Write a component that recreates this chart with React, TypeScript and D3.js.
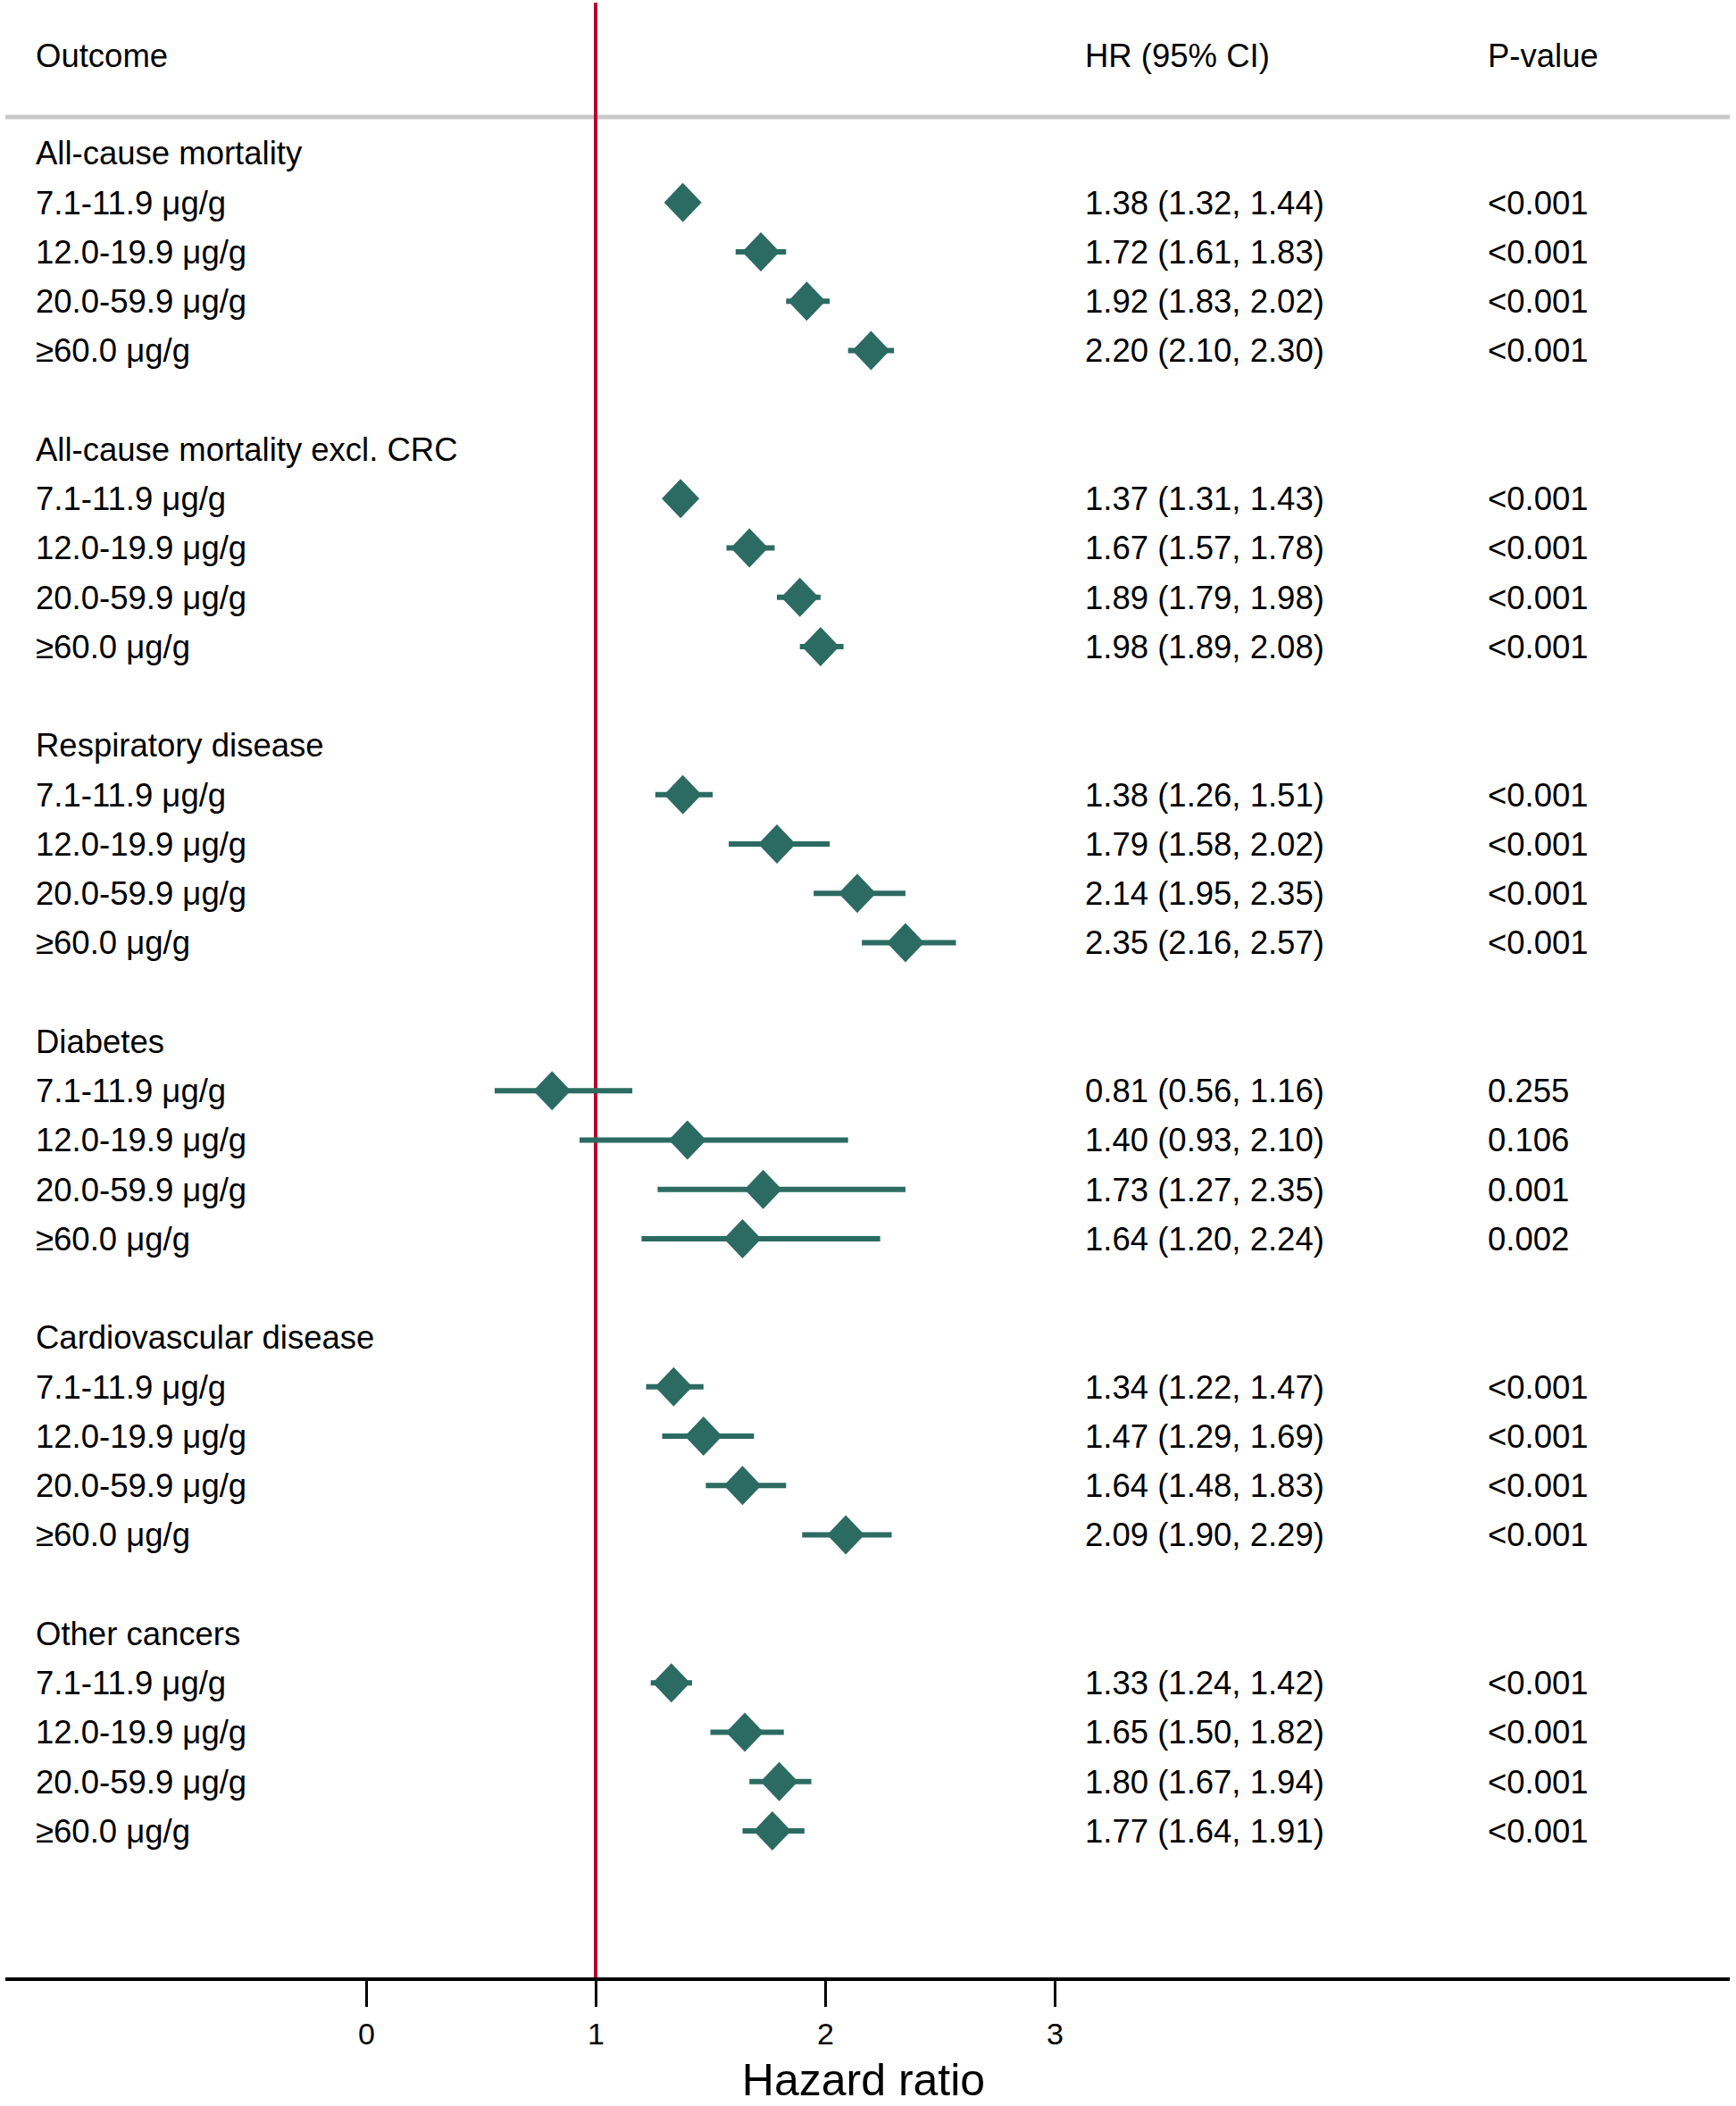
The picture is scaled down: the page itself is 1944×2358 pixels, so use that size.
import React, { useEffect, useRef } from "react";
import * as d3 from "d3";

// outcome groups and exposure categories
const outcomes = [
  "All-cause mortality",
  "All-cause mortality excl. CRC",
  "Respiratory disease",
  "Diabetes",
  "Cardiovascular disease",
  "Other cancers",
];
const levels = ["7.1-11.9 μg/g", "12.0-19.9 μg/g", "20.0-59.9 μg/g", "≥60.0 μg/g"];

// hazard ratios, one row of 4 per outcome
const hr = [
  [1.38, 1.72, 1.92, 2.2],
  [1.37, 1.67, 1.89, 1.98],
  [1.38, 1.79, 2.14, 2.35],
  [0.81, 1.4, 1.73, 1.64],
  [1.34, 1.47, 1.64, 2.09],
  [1.33, 1.65, 1.8, 1.77],
];
const lower = [
  [1.32, 1.61, 1.83, 2.1],
  [1.31, 1.57, 1.79, 1.89],
  [1.26, 1.58, 1.95, 2.16],
  [0.56, 0.93, 1.27, 1.2],
  [1.22, 1.29, 1.48, 1.9],
  [1.24, 1.5, 1.67, 1.64],
];
const upper = [
  [1.44, 1.83, 2.02, 2.3],
  [1.43, 1.78, 1.98, 2.08],
  [1.51, 2.02, 2.35, 2.57],
  [1.16, 2.1, 2.35, 2.24],
  [1.47, 1.69, 1.83, 2.29],
  [1.42, 1.82, 1.94, 1.91],
];
const pValues = [
  ["<0.001", "<0.001", "<0.001", "<0.001"],
  ["<0.001", "<0.001", "<0.001", "<0.001"],
  ["<0.001", "<0.001", "<0.001", "<0.001"],
  ["0.255", "0.106", "0.001", "0.002"],
  ["<0.001", "<0.001", "<0.001", "<0.001"],
  ["<0.001", "<0.001", "<0.001", "<0.001"],
];
const xTicks = [0, 1, 2, 3];

const W = 1944;
const H = 2358;
const FONT = "'Liberation Sans', Arial, sans-serif";
const GREEN = "#2c6b62";
const RED = "#b8002e";

export default function App() {
  const ref = useRef<SVGSVGElement>(null);

  useEffect(() => {
    const svg = d3.select(ref.current);
    svg.selectAll("*").remove();

    const x = d3.scaleLinear().domain([0, 3]).range([410, 1181]);
    // row index -> vertical centre (header of each group + 4 rows + blank)
    const y = d3.scaleLinear().domain([0, 1]).range([171.4, 226.65]);
    const axisY = 2216;
    const fs = 36.5;
    const colLabel = 40;
    const colHR = 1215;
    const colP = 1666;

    const rows: any[] = [];
    outcomes.forEach((o, g) => {
      rows.push({ type: "head", label: o, idx: g * 6 });
      levels.forEach((l, i) => {
        rows.push({
          type: "item",
          label: l,
          idx: g * 6 + i + 1,
          hr: hr[g][i],
          lo: lower[g][i],
          hi: upper[g][i],
          p: pValues[g][i],
        });
      });
    });

    const txt = (sel: any) =>
      sel.attr("font-family", FONT).attr("font-size", fs).attr("fill", "#000");

    // header
    const head = svg.append("g");
    txt(head.append("text").attr("x", colLabel).attr("y", 62 + 13).text("Outcome"));
    txt(head.append("text").attr("x", colHR).attr("y", 62 + 13).text("HR (95% CI)"));
    txt(head.append("text").attr("x", colP).attr("y", 62 + 13).text("P-value"));

    svg.append("line")
      .attr("x1", 6).attr("x2", 1937)
      .attr("y1", 131).attr("y2", 131)
      .attr("stroke", "#c9c9c9").attr("stroke-width", 5);

    // row labels
    const body = svg.append("g");
    rows.forEach((r) => {
      txt(body.append("text").attr("x", colLabel).attr("y", y(r.idx) + 13).text(r.label));
      if (r.type === "item") {
        txt(body.append("text").attr("x", colHR).attr("y", y(r.idx) + 13)
          .text(`${r.hr.toFixed(2)} (${r.lo.toFixed(2)}, ${r.hi.toFixed(2)})`));
        txt(body.append("text").attr("x", colP).attr("y", y(r.idx) + 13).text(r.p));
      }
    });

    // reference line at HR = 1
    svg.append("line")
      .attr("x1", x(1)).attr("x2", x(1))
      .attr("y1", 3).attr("y2", axisY)
      .attr("stroke", RED).attr("stroke-width", 4);

    const items = rows.filter((r) => r.type === "item");
    const marks = svg.append("g");
    marks.selectAll(".ci")
      .data(items)
      .enter().append("line")
      .attr("class", "ci")
      .attr("x1", (d: any) => x(d.lo))
      .attr("x2", (d: any) => x(d.hi))
      .attr("y1", (d: any) => y(d.idx))
      .attr("y2", (d: any) => y(d.idx))
      .attr("stroke", GREEN)
      .attr("stroke-width", 6);

    marks.selectAll(".pt")
      .data(items)
      .enter().append("path")
      .attr("class", "pt")
      .attr("d", (d: any) => {
        const cx = x(d.hr);
        const cy = y(d.idx);
        return `M${cx - 21},${cy}L${cx},${cy - 22}L${cx + 21},${cy}L${cx},${cy + 22}Z`;
      })
      .attr("fill", GREEN);

    // x axis
    const ax = svg.append("g").attr("transform", `translate(0, ${axisY})`);
    ax.append("line")
      .attr("x1", 6).attr("x2", 1937)
      .attr("y1", 0).attr("y2", 0)
      .attr("stroke", "#000").attr("stroke-width", 4);
    const axis = d3.axisBottom(x).tickValues(xTicks).tickSize(31).tickPadding(18)
      .tickFormat(d3.format("d"));
    ax.call(axis as any);
    ax.select(".domain").remove();
    ax.selectAll(".tick line").attr("stroke", "#000").attr("stroke-width", 3);
    ax.selectAll(".tick text")
      .attr("font-family", FONT).attr("font-size", 34).attr("fill", "#000");

    txt(svg.append("text")
      .attr("x", 967).attr("y", 2346)
      .attr("text-anchor", "middle")
      .text("Hazard ratio")).attr("font-size", 50);
  }, []);

  return (
    <svg
      ref={ref}
      width={W}
      height={H}
      style={{ position: "absolute", left: 0, top: 0, background: "#fff" }}
    />
  );
}
